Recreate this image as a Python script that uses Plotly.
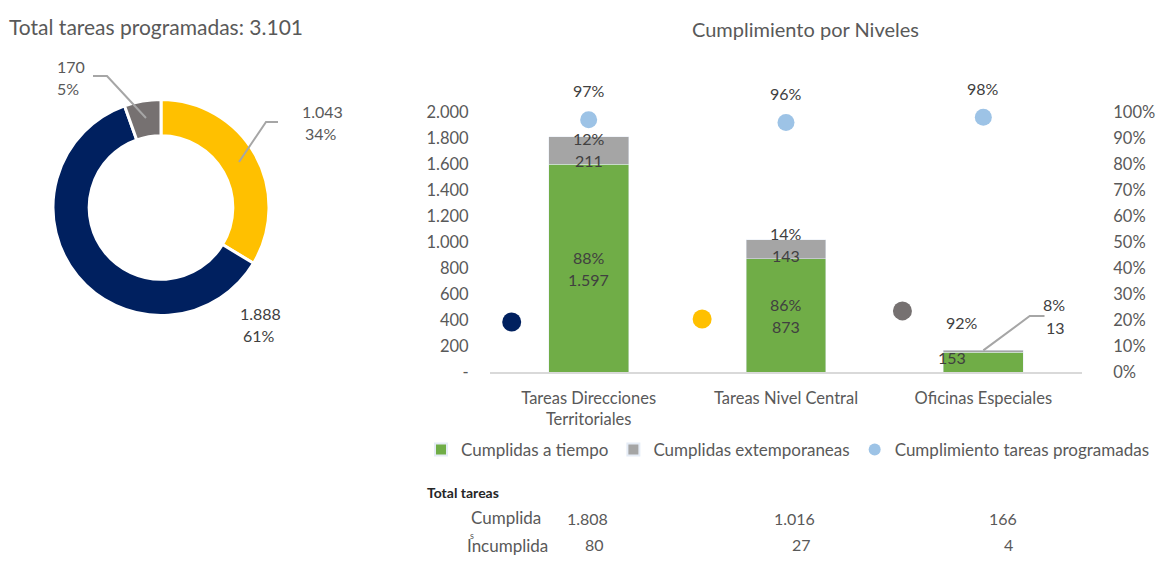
import plotly.graph_objects as go

W, H = 1166, 561

# ---------------- data ----------------
total_title = "Total tareas programadas: 3.101"
donut_labels = ["Tareas Nivel Central", "Tareas Direcciones Territoriales", "Oficinas Especiales"]
donut_values = [1043, 1888, 170]
donut_pcts = ["34%", "61%", "5%"]
donut_colors = ["#FFC000", "#00205F", "#767171"]

categories = ["Tareas Direcciones<br>Territoriales", "Tareas Nivel Central", "Oficinas Especiales"]
on_time = [1597, 873, 153]
late = [211, 143, 13]
on_time_pct = ["88%", "86%", "92%"]
late_pct = ["12%", "14%", "8%"]
compliance = [0.97, 0.96, 0.98]
compliance_lbl = ["97%", "96%", "98%"]
level_marker_x = [-0.39, 0.575, 1.59]
level_marker_y = [385, 408, 470]
level_colors = ["#00205F", "#FFC000", "#767171"]
completed = [1808, 1016, 166]
not_completed = [80, 27, 4]
left_tickvals = [0, 200, 400, 600, 800, 1000, 1200, 1400, 1600, 1800, 2000]
right_tickvals = [0, 0.1, 0.2, 0.3, 0.4, 0.5, 0.6, 0.7, 0.8, 0.9, 1.0]

FONT = "Lato"
TXT = "#595959"
DARK = "#404040"


def fmt(n):
    return f"{n:,}".replace(",", ".")


def px(x):
    return x / W


def py(y):
    return 1 - y / H


fig = go.Figure()

# donut
fig.add_trace(go.Pie(
    labels=donut_labels, values=donut_values, hole=0.665, sort=False,
    direction="clockwise", rotation=0,
    marker=dict(colors=donut_colors, line=dict(color="white", width=3)),
    textinfo="none", showlegend=False, hoverinfo="label+value+percent",
    domain=dict(x=[px(53), px(269)], y=[py(316), py(99)]),
))

# stacked bars
xs = list(range(len(categories)))
fig.add_trace(go.Bar(x=xs, y=on_time, name="Cumplidas a tiempo",
                     marker=dict(color="#70AD47"), width=0.405))
fig.add_trace(go.Bar(x=xs, y=late, name="Cumplidas extemporaneas",
                     marker=dict(color="#A5A5A5"), width=0.405))
# compliance dots
fig.add_trace(go.Scatter(x=xs, y=compliance, yaxis="y2", mode="markers",
                         name="Cumplimiento tareas programadas", cliponaxis=False,
                         marker=dict(color="#9DC3E6", size=17)))
# level colour markers
fig.add_trace(go.Scatter(x=level_marker_x, y=level_marker_y, mode="markers",
                         showlegend=False, cliponaxis=False,
                         marker=dict(color=level_colors, size=19)))

ann = []
# titles
ann.append(dict(text=total_title, x=px(7), y=py(27), xref="paper", yref="paper",
                xanchor="left", yanchor="middle", showarrow=False,
                font=dict(size=21, color=TXT, family=FONT)))
ann.append(dict(text="Cumplimiento por Niveles", x=px(805), y=py(29), xref="paper",
                yref="paper", xanchor="center", yanchor="middle", showarrow=False,
                font=dict(size=20, color=TXT, family=FONT)))

# donut labels (value / pct on two lines)
donut_lbl_pos = [(300, 111, TXT), (238, 313, DARK), (55, 66, TXT)]
for (lx, ly, col), v, p in zip(donut_lbl_pos, donut_values, donut_pcts):
    ann.append(dict(text=fmt(v), x=px(lx), y=py(ly), xref="paper", yref="paper",
                    xanchor="left", yanchor="middle", showarrow=False,
                    font=dict(size=16, color=col, family=FONT)))
    ann.append(dict(text=p, x=px(lx + 3 if v != 170 else lx), y=py(ly + 22), xref="paper",
                    yref="paper", xanchor="left", yanchor="middle", showarrow=False,
                    font=dict(size=16, color=col, family=FONT)))

# bar labels
BF = dict(size=16, color=DARK, family=FONT)
for i in range(3):
    if i < 2:
        yc = on_time[i] / 2
        ann.append(dict(text=on_time_pct[i], x=i, y=yc, yshift=11, showarrow=False, font=BF))
        ann.append(dict(text=fmt(on_time[i]), x=i, y=yc, yshift=-11, showarrow=False, font=BF))
        yc2 = on_time[i] + late[i] / 2
        ann.append(dict(text=late_pct[i], x=i, y=yc2, yshift=12 + (4 if i == 1 else 0),
                        showarrow=False, font=BF))
        ann.append(dict(text=fmt(late[i]), x=i, y=yc2, yshift=-10 + (4 if i == 1 else 0),
                        showarrow=False, font=BF))
    else:
        ann.append(dict(text=on_time_pct[i], x=i - 0.11, y=on_time[i], yshift=30,
                        showarrow=False, font=BF))
        ann.append(dict(text=fmt(on_time[i]), x=i - 0.16, y=on_time[i], yshift=-5,
                        showarrow=False, font=BF))
        tot = on_time[i] + late[i]
        ann.append(dict(text=late_pct[i], x=i + 0.36, y=tot, yshift=46, showarrow=False,
                        font=BF))
        ann.append(dict(text=fmt(late[i]), x=i + 0.365, y=tot, yshift=23, showarrow=False,
                        font=BF))
    ann.append(dict(text=compliance_lbl[i], x=i, y=compliance[i], yref="y2", yshift=29,
                    showarrow=False, font=BF))

# table
ann.append(dict(text="<b>Total tareas</b>", x=px(425), y=py(492), xref="paper", yref="paper",
                xanchor="left", yanchor="middle", showarrow=False,
                font=dict(size=14, color="#262626", family=FONT)))
ann.append(dict(text="Cumplida", x=px(469), y=py(517), xref="paper", yref="paper",
                xanchor="left", yanchor="middle", showarrow=False,
                font=dict(size=17, color=TXT, family=FONT)))
ann.append(dict(text="Incumplida", x=px(465), y=py(545), xref="paper", yref="paper",
                xanchor="left", yanchor="middle", showarrow=False,
                font=dict(size=17, color=TXT, family=FONT)))
ann.append(dict(text="s", x=px(468), y=py(535), xref="paper", yref="paper",
                xanchor="left", yanchor="middle", showarrow=False,
                font=dict(size=9, color=TXT, family=FONT)))
for rx, c, n in zip([610, 817, 1019], completed, not_completed):
    ann.append(dict(text=fmt(c), x=px(rx), y=py(518), xref="paper", yref="paper",
                    xanchor="right", yanchor="middle", showarrow=False,
                    font=dict(size=16, color=TXT, family=FONT)))
    ann.append(dict(text=fmt(n), x=px(rx - 4), y=py(544), xref="paper", yref="paper",
                    xanchor="right", yanchor="middle", showarrow=False,
                    font=dict(size=16, color=TXT, family=FONT)))

shapes = [
    dict(type="path", xref="paper", yref="paper",
         path=f"M{px(93)},{py(76)} L{px(107)},{py(76)} L{px(146)},{py(118)}",
         line=dict(color="#A6A6A6", width=2)),
    dict(type="path", xref="paper", yref="paper",
         path=f"M{px(278)},{py(122)} L{px(266)},{py(122)} L{px(239)},{py(162)}",
         line=dict(color="#A6A6A6", width=2)),
    dict(type="path", xref="x", yref="y",
         path=f"M 2.31,431 L 2.235,431 L 2.0,{on_time[2] + late[2]}",
         line=dict(color="#A6A6A6", width=2)),
]

fig.update_layout(
    width=W, height=H, margin=dict(l=0, r=0, t=0, b=0, autoexpand=False),
    paper_bgcolor="white", plot_bgcolor="white",
    font=dict(family=FONT, size=16, color=TXT),
    barmode="stack", bargap=0.6,
    xaxis=dict(domain=[px(490), px(1082)], range=[-0.5, 2.5], tickvals=xs,
               ticktext=categories, showline=True, linecolor="#D9D9D9", linewidth=2,
               showgrid=False, zeroline=False, ticks="outside", ticklen=10,
               automargin=False,
               tickcolor="rgba(0,0,0,0)", tickfont=dict(size=16.5, color=TXT)),
    yaxis=dict(domain=[py(372), py(112)], range=[0, 2000], tickvals=left_tickvals,
               ticktext=["-" if v == 0 else fmt(v) for v in left_tickvals],
               showgrid=False, zeroline=False, showline=False, ticks="outside",
               automargin=False,
               ticklen=17, tickcolor="rgba(0,0,0,0)", tickfont=dict(size=16.5, color=TXT)),
    yaxis2=dict(overlaying="y", side="right", range=[0, 1], tickvals=right_tickvals,
                ticktext=[f"{int(round(v*100))}%" for v in right_tickvals],
                showgrid=False, zeroline=False, showline=False, ticks="outside",
                automargin=False,
                ticklen=27, tickcolor="rgba(0,0,0,0)", tickfont=dict(size=16.5, color=TXT)),
    legend=dict(orientation="h", x=px(421), y=py(450), xanchor="left", yanchor="middle",
                font=dict(size=17, color=TXT), itemsizing="constant", itemwidth=30,
                traceorder="normal", bgcolor="rgba(0,0,0,0)"),
    annotations=ann, shapes=shapes,
)

fig.write_html("out.html", config={"displayModeBar": False},
               post_script="document.body.style.margin='0';document.body.style.padding='0';")
